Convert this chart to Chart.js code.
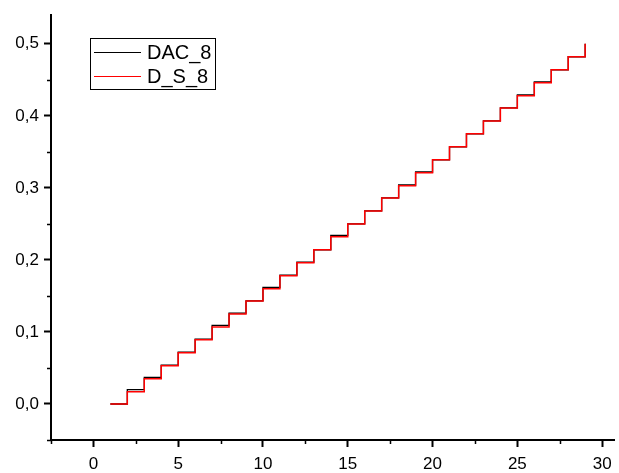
<!DOCTYPE html>
<html>
<head>
<meta charset="utf-8">
<script src="https://cdn.jsdelivr.net/npm/chart.js@4.4.1/dist/chart.umd.min.js"></script>
<style>
  html, body { margin: 0; padding: 0; background: #fff; }
  #wrap { width: 619px; height: 473px; }
</style>
</head>
<body>
<div id="wrap"><canvas id="chart" width="619" height="473"></canvas></div>
<script>
// --- DATA ---
const xSteps = [1, 2, 3, 4, 5, 6, 7, 8, 9, 10, 11, 12, 13, 14, 15, 16, 17, 18, 19, 20, 21, 22, 23, 24, 25, 26, 27, 28, 29];
const dac8 = [0, 0.020, 0.037, 0.054, 0.072, 0.090, 0.109, 0.126, 0.143, 0.162, 0.179, 0.197, 0.214, 0.234, 0.250, 0.268, 0.286, 0.304, 0.322, 0.339, 0.357, 0.375, 0.393, 0.411, 0.429, 0.447, 0.464, 0.482, 0.500];
const ds8 = [0, 0.017, 0.035, 0.053, 0.071, 0.089, 0.107, 0.125, 0.143, 0.160, 0.178, 0.196, 0.214, 0.232, 0.250, 0.268, 0.286, 0.303, 0.321, 0.339, 0.357, 0.375, 0.393, 0.411, 0.428, 0.446, 0.464, 0.482, 0.500];
const xTicks = [0, 5, 10, 15, 20, 25, 30];
const yTicks = [0, 0.1, 0.2, 0.3, 0.4, 0.5];
const xMinor = [-2.5, 2.5, 7.5, 12.5, 17.5, 22.5, 27.5];
const yMinor = [-0.05, 0.05, 0.15, 0.25, 0.35, 0.45];

const toPoints = (ys) => ys.map((y, i) => ({ x: xSteps[i], y: y }));

// --- minor ticks + boxed legend (Origin style) ---
const originDecor = {
    id: 'originDecor',
    afterDraw(chart) {
        const ctx = chart.ctx;
        const xs = chart.scales.x, ys = chart.scales.y;
        const area = chart.chartArea;
        ctx.save();
        ctx.strokeStyle = '#000';
        ctx.lineWidth = 1.5;
        ctx.beginPath();
        xMinor.forEach(v => {
            const px = Math.round(xs.getPixelForValue(v)) + 0.5;
            ctx.moveTo(px, area.bottom);
            ctx.lineTo(px, area.bottom + 4);
        });
        yMinor.forEach(v => {
            const py = Math.round(ys.getPixelForValue(v)) + 0.5;
            ctx.moveTo(area.left, py);
            ctx.lineTo(area.left - 4, py);
        });
        ctx.stroke();

        // legend box
        ctx.lineWidth = 1;
        ctx.strokeRect(90.5, 38.5, 125, 51);
        ctx.font = '20px "Liberation Sans", Arial, sans-serif';
        ctx.textBaseline = 'middle';
        ctx.fillStyle = '#000';
        const rows = [{ ds: chart.data.datasets[0], y: 52.5 }, { ds: chart.data.datasets[1], y: 76.5 }];
        rows.forEach(r => {
            ctx.strokeStyle = r.ds.borderColor;
            ctx.lineWidth = 1.2;
            ctx.beginPath();
            ctx.moveTo(94, r.y);
            ctx.lineTo(141, r.y);
            ctx.stroke();
            ctx.fillText(r.ds.label, 147, r.y + 1);
        });
        ctx.restore();
    }
};

const tickFont = { family: '"Liberation Sans", Arial, sans-serif', size: 17 };

new Chart(document.getElementById('chart').getContext('2d'), {
    type: 'line',
    data: {
        datasets: [
            { label: 'DAC_8', data: toPoints(dac8), borderColor: '#000000', borderWidth: 1.3, pointRadius: 0, stepped: 'before', order: 1 },
            { label: 'D_S_8', data: toPoints(ds8), borderColor: '#ff0000', borderWidth: 1.5, pointRadius: 0, stepped: 'before', order: 0 }
        ]
    },
    options: {
        responsive: false,
        animation: false,
        layout: { padding: { left: 0, top: 10, right: 5, bottom: 0 } },
        plugins: { legend: { display: false }, tooltip: { enabled: false } },
        scales: {
            x: {
                type: 'linear', min: -2.5, max: 30.7,
                afterBuildTicks: (s) => { s.ticks = xTicks.map(v => ({ value: v })); },
                afterFit: (s) => { s.height = 33; },
                border: { display: true, color: '#000', width: 2 },
                grid: { drawOnChartArea: false, drawTicks: true, tickLength: 7, tickWidth: 2, tickColor: '#000' },
                ticks: { color: '#000', font: tickFont, padding: 7, maxRotation: 0, autoSkip: false }
            },
            y: {
                type: 'linear', min: -0.05, max: 0.5397,
                afterBuildTicks: (s) => { s.ticks = yTicks.map(v => ({ value: v })); },
                afterFit: (s) => { s.width = 51; },
                border: { display: true, color: '#000', width: 2 },
                grid: { drawOnChartArea: false, drawTicks: true, tickLength: 7, tickWidth: 2, tickColor: '#000' },
                ticks: { color: '#000', font: tickFont, padding: 5, autoSkip: false,
                         callback: (v) => v.toFixed(1).replace('.', ',') }
            }
        }
    },
    plugins: [originDecor]
});
</script>
</body>
</html>
